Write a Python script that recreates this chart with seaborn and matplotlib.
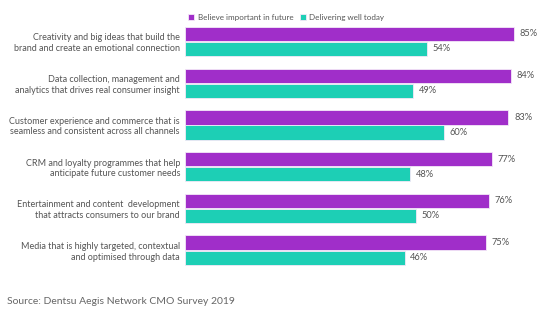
import matplotlib
matplotlib.use("Agg")
import matplotlib.pyplot as plt
import seaborn as sns
import pandas as pd

categories = [
    "Creativity and big ideas that build the\nbrand and create an emotional connection",
    "Data collection, management and\nanalytics that drives real consumer insight",
    "Customer experience and commerce that is\nseamless and consistent across all channels",
    "CRM and loyalty programmes that help\nanticipate future customer needs",
    "Entertainment and content  development\nthat attracts consumers to our brand",
    "Media that is highly targeted, contextual\nand optimised through data",
]
believe = [85, 84, 83, 77, 76, 75]
delivering = [54, 49, 60, 48, 50, 46]
series_names = ["Believe important in future", "Delivering well today"]
colors = ["#A02EC9", "#1DCFB5"]
source = "Source: Dentsu Aegis Network CMO Survey 2019"

df = pd.DataFrame({
    "category": categories * 2,
    "value": believe + delivering,
    "series": [series_names[0]] * len(categories) + [series_names[1]] * len(categories),
})

sns.set_theme(style="white")
plt.rcParams["font.family"] = ["Lato", "DejaVu Sans"]

W, H = 550, 321
fig = plt.figure(figsize=(W / 100, H / 100), dpi=100)
ax = fig.add_axes([185 / W, 1 - 271 / H, 360 / W, (271 - 20.6) / H])

sns.barplot(data=df, y="category", x="value", hue="series", palette=colors,
            saturation=1, width=0.72, gap=0.05, orient="h", ax=ax,
            edgecolor="#f4e8f8", linewidth=0.6)

XMIN = -32.2
ax.set_xlim(XMIN, 96)
ax.set_ylim(len(categories) - 0.5, -0.5)

# bars are drawn from the left edge of the value axis, as in the reference
for cont in ax.containers:
    for bar in cont:
        w = bar.get_width()
        bar.set_x(XMIN)
        bar.set_width(w - XMIN)
    ax.bar_label(cont, fmt="{:.0f}%", padding=4, fontsize=6.7, color="#555555")

for s in ax.spines.values():
    s.set_visible(False)
ax.xaxis.set_visible(False)
ax.set_ylabel("")
ax.tick_params(axis="y", length=0, pad=3.6, labelsize=6.5, labelcolor="#555555")

sns.move_legend(ax, "lower left", bbox_to_anchor=(188 / W, 1 - 21 / H),
                bbox_transform=fig.transFigure, ncol=2, title=None, frameon=False,
                fontsize=5.8, handlelength=0.8, handleheight=0.8, handletextpad=0.4,
                columnspacing=0.8, borderaxespad=0, borderpad=0)
for t in ax.get_legend().get_texts():
    t.set_color("#555555")

fig.text(7 / W, 1 - 302 / H, source, va="center", ha="left", fontsize=7.5, color="#666666")

fig.savefig("out.png", dpi=100)
